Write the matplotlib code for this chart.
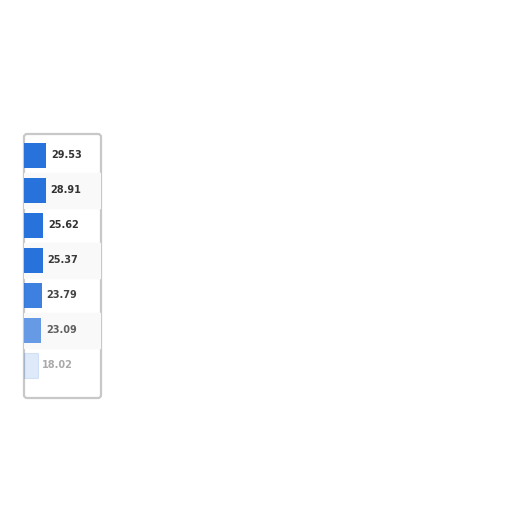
import matplotlib
matplotlib.use("Agg")
import matplotlib.pyplot as plt
from matplotlib.patches import FancyBboxPatch

# valeurs
valeurs = [29.53, 28.91, 25.62, 25.37, 23.79, 23.09, 18.02]
alphas = [1.0, 1.0, 1.0, 1.0, 0.9, 0.7, 0.15]
couleurs_texte = ["#333333", "#333333", "#333333", "#3a3a3a", "#444444", "#606060", "#aaaaaa"]

fig = plt.figure(figsize=(5.12, 5.12), dpi=100)
fig.patch.set_facecolor("white")

# panneau encadré (sous les axes)
cadre = FancyBboxPatch((24 / 512, 114 / 512), 77 / 512, 264 / 512,
                       boxstyle="round,pad=0,rounding_size=0.006",
                       transform=fig.transFigure, facecolor="white",
                       edgecolor="#c8c8c8", lw=1.6, zorder=0.5)
fig.patches.append(cadre)

ax = fig.add_axes([24 / 512, 114 / 512, 77 / 512, 264 / 512])
ax.set_zorder(2)
ax.set_facecolor("none")

for i, (v, a) in enumerate(zip(valeurs, alphas)):
    if i % 2 == 1:
        ax.axhspan(i - 0.5, i + 0.5, color="#f9f9f9", zorder=0)
    ax.barh(i, v, height=0.7, color="#2872dc", alpha=a, zorder=2,
            edgecolor="#2872dc" if a < 0.3 else "none", lw=0.8)
    ax.text(v + 6, i, f"{v:.2f}", va="center", ha="left", fontsize=7,
            fontweight="bold", color=couleurs_texte[i], zorder=3)

ax.set_xlim(0, 102)
ax.set_ylim(6.93, -0.614)
ax.set_xticks([])
ax.set_yticks([])
for s in ax.spines.values():
    s.set_visible(False)

fig.savefig("out.png", dpi=100)
